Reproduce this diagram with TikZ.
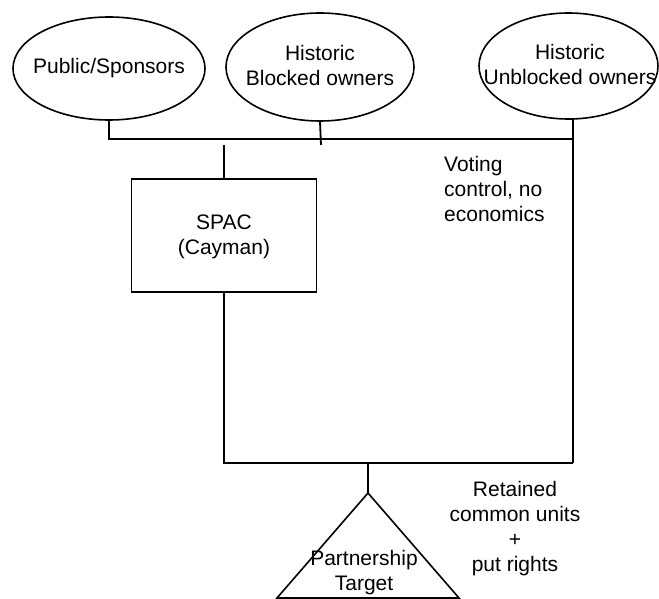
\documentclass[tikz,border=0pt]{standalone}
\usepackage{fontspec}
\setmainfont{Liberation Sans}
\usetikzlibrary{shapes.geometric}
\begin{document}
\begin{tikzpicture}[x=1pt,y=-1pt,
  ell/.style={draw, ellipse, line width=1.6pt, inner sep=0pt},
  lbl/.style={align=center, inner sep=0pt, font=\fontsize{21}{25}\selectfont},
  box/.style={draw, rectangle, line width=1.8pt, inner sep=0pt},
  conn/.style={line width=1.8pt}]
\useasboundingbox (0,0) rectangle (659,599);
% ellipses
\node[ell, minimum width=192pt, minimum height=103pt] (e1) at (109,68.5) {};
\node[lbl] (t1) at (e1) {Public/Sponsors};
\node[ell, minimum width=188pt, minimum height=108pt] (e2) at (320,67) {};
\node[lbl] (t2) at (320,65) {Historic\\Blocked owners};
\node[ell, minimum width=179pt, minimum height=106pt] (e3) at (568.5,66) {};
\node[lbl] (t3) at (570,64) {Historic\\Unblocked owners};
% SPAC box
\node[box, minimum width=185pt, minimum height=113pt] (spac) at (224,235.5) {};
\node[lbl] (ts) at (224,237) {SPAC\\(Cayman)};
% junction coordinates
\coordinate (j3) at (573,139);
\coordinate (j2) at (321,145);
\coordinate (e3b) at (573,119.5);
\coordinate (s1) at (224,145);
\coordinate (b3) at (573,463);
\coordinate (b2) at (368,463);
\coordinate (tapex) at (368,493);
\coordinate (tl) at (277,598);
\coordinate (tr) at (459,598);
% connectors
\draw[conn] (e1.south) |- (j3);
\draw[conn] (e2.south) -- (j2);
\draw[conn] (e3b) -- (b3);
\draw[conn] (s1) -- (spac.north);
\draw[conn] (spac.south) |- (b3);
\draw[conn] (b2) -- (tapex);
% triangle
\draw[line width=1.6pt, line join=miter] (tapex) -- (tr) -- (tl) -- cycle;
\node[lbl] (tt) at (364,573) {Partnership\\Target};
% labels
\node[lbl, align=left, anchor=west] (vote) at (444,189) {Voting\\control, no\\economics};
\node[lbl] (ret) at (515,529) {Retained\\common units\\+\\put rights};
\end{tikzpicture}
\end{document}
